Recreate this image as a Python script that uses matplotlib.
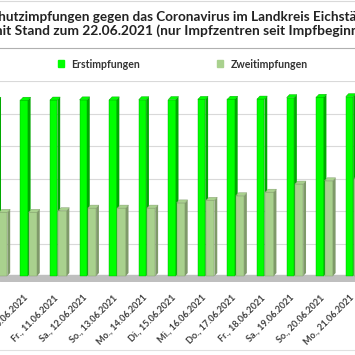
import matplotlib
matplotlib.use("Agg")
import matplotlib.pyplot as plt
import matplotlib.transforms as mtrans
from matplotlib.patches import Patch, Polygon
from matplotlib.lines import Line2D

plt.rcParams['font.family'] = ['Lato', 'DejaVu Sans']

# --- data ---
days = ["Mi., 09.06.2021", "Do., 10.06.2021", "Fr., 11.06.2021", "Sa., 12.06.2021",
        "So., 13.06.2021", "Mo., 14.06.2021", "Di., 15.06.2021", "Mi., 16.06.2021",
        "Do., 17.06.2021", "Fr., 18.06.2021", "Sa., 19.06.2021", "So., 20.06.2021",
        "Mo., 21.06.2021"]
erst = [54100, 54100, 54150, 54200, 54200, 54250, 54300, 54350,
        54400, 54450, 54900, 55000, 55200]
zweit = [19600, 19600, 20100, 20900, 20900, 20900, 22500, 23300,
         24700, 25800, 28300, 29300, 30000]
series_names = ["Erstimpfungen", "Zweitimpfungen"]
title_lines = ["Schutzimpfungen gegen das Coronavirus im Landkreis Eichstätt",
               "mit Stand zum 22.06.2021 (nur Impfzentren seit Impfbeginn)"]

GREEN = "#00ff00"
GREEN_SIDE = "#00a800"
LGREEN = "#a9d18e"
LGREEN_SIDE = "#7f9a6a"

fig = plt.figure(figsize=(3.55, 3.55), dpi=100)
ax = fig.add_axes([0, 0.2056, 1, 0.5662])

DX, DY = 0.094, 920  # fake 3d depth


def bar3d(x0, w, v, front, side, z):
    ax.bar(x0, v, width=w, align="edge", color=front, edgecolor=side,
           linewidth=0.3, zorder=z)
    ax.add_patch(Polygon([(x0 + w, 0), (x0 + w + DX, DY), (x0 + w + DX, v + DY), (x0 + w, v)],
                         closed=True, facecolor=side, edgecolor="none", zorder=z))
    ax.add_patch(Polygon([(x0, v), (x0 + DX, v + DY), (x0 + w + DX, v + DY), (x0 + w, v)],
                         closed=True, facecolor=front, edgecolor=side, linewidth=0.3, zorder=z))


for i in range(len(days)):
    bar3d(i - 0.31, 0.25, erst[i], GREEN, GREEN_SIDE, 3)
    bar3d(i - 0.03, 0.28, zweit[i], LGREEN, LGREEN_SIDE, 4)

ax.axhspan(-1600, 300, color="#bfbfbf", zorder=2)
for yv in range(0, 60001, 10000):
    ax.axhline(yv, color="#d9d9d9", lw=0.8, zorder=1)

ax.set_xlim(0.156, 11.25)
ax.set_ylim(-1846, 60000)
ax.set_yticks([])
ax.set_xticks(range(len(days)))
ax.set_xticklabels(days, rotation=45, ha="right", va="top", rotation_mode="anchor",
                   fontsize=6.6, fontweight="bold", color="#404040")
ax.tick_params(axis="x", length=0, pad=8)
shift = mtrans.ScaledTranslation(-6 / 100, 0, fig.dpi_scale_trans)
for lab in ax.get_xticklabels():
    lab.set_transform(lab.get_transform() + shift)
for s in ax.spines.values():
    s.set_visible(False)

fig.text(0.494, 1 - 17 / 355, title_lines[0], ha="center", va="center",
         fontsize=9.75, fontweight="bold", color="#222222")
fig.text(0.497, 1 - 31 / 355, title_lines[1], ha="center", va="center",
         fontsize=9.95, fontweight="bold", color="#222222")

handles = [Patch(color=GREEN), Patch(color=LGREEN)]
fig.legend(handles, series_names, loc="center", bbox_to_anchor=(0.515, 1 - 64 / 355),
           ncol=2, frameon=False, handlelength=0.6, handleheight=0.6, handletextpad=0.7,
           columnspacing=7.3, prop={"size": 7.6, "weight": "bold"}, labelcolor="#333333")

for yp, c in [(1, "#d9d9d9"), (48, "#b0b0b0"), (350, "#e0e0e0")]:
    fig.add_artist(Line2D([0, 1], [1 - yp / 355] * 2, transform=fig.transFigure,
                          color=c, lw=0.8))

fig.savefig("out.png", dpi=100, facecolor="white")
